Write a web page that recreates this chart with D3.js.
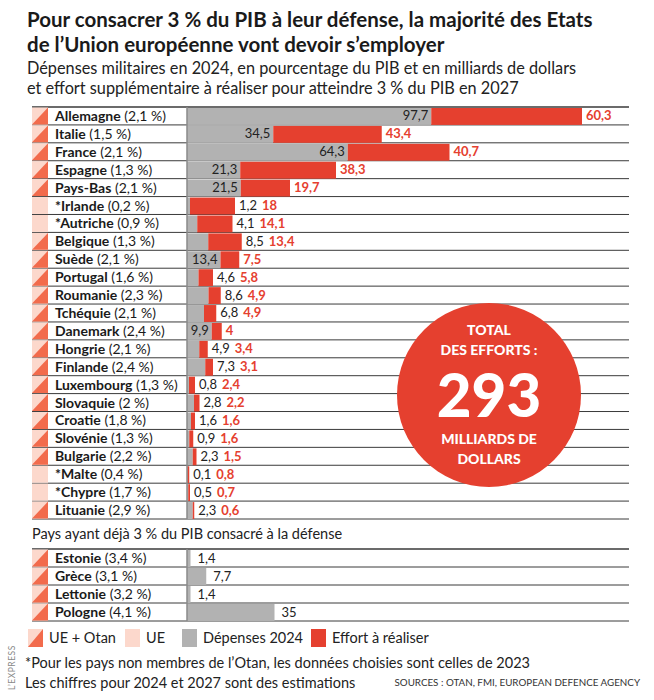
<!doctype html>
<meta charset=utf8>
<title>Effort de défense UE</title>
<style>
  body { margin: 0; background: white; }
  svg { display: block; font-family: Lato, 'Open Sans', sans-serif; }
  .title { font-size: 20.5px; font-weight: 700; fill: #1a1a1a; }
  .subtitle { font-size: 16.3px; fill: #222; }
  .country { font-size: 14px; fill: #1a1a1a; }
  .country tspan.name { font-weight: 700; }
  .val { font-size: 13px; fill: #222; }
  .eff { font-size: 13px; font-weight: 700; fill: #e5402f; }
  .legend { font-size: 14.5px; fill: #222; }
  .note { font-size: 14.5px; fill: #222; }
  .badge { fill: white; font-weight: 900; }
</style>
<svg width=654 height=700></svg>
<script src=https://cdn.jsdelivr.net/npm/d3@7></script>
<script>
  // pays devant encore faire un effort
  var countries = ['Allemagne', 'Italie', 'France', 'Espagne', 'Pays-Bas', '*Irlande', '*Autriche',
    'Belgique', 'Suède', 'Portugal', 'Roumanie', 'Tchéquie', 'Danemark', 'Hongrie', 'Finlande',
    'Luxembourg', 'Slovaquie', 'Croatie', 'Slovénie', 'Bulgarie', '*Malte', '*Chypre', 'Lituanie'];
  var pibShare = ['2,1', '1,5', '2,1', '1,3', '2,1', '0,2', '0,9', '1,3', '2,1', '1,6', '2,3', '2,1',
    '2,4', '2,1', '2,4', '1,3', '2', '1,8', '1,3', '2,2', '0,4', '1,7', '2,9'];
  var spend2024 = [97.7, 34.5, 64.3, 21.3, 21.5, 1.2, 4.1, 8.5, 13.4, 4.6, 8.6, 6.8, 9.9, 4.9, 7.3,
    0.8, 2.8, 1.6, 0.9, 2.3, 0.1, 0.5, 2.3];
  var effort = [60.3, 43.4, 40.7, 38.3, 19.7, 18, 14.1, 13.4, 7.5, 5.8, 4.9, 4.9, 4, 3.4, 3.1,
    2.4, 2.2, 1.6, 1.6, 1.5, 0.8, 0.7, 0.6];
  var nato = [1, 1, 1, 1, 1, 0, 0, 1, 1, 1, 1, 1, 1, 1, 1, 1, 1, 1, 1, 1, 0, 0, 1];

  // pays déjà à 3 %
  var countries3 = ['Estonie', 'Grèce', 'Lettonie', 'Pologne'];
  var pibShare3 = ['3,4', '3,1', '3,2', '4,1'];
  var spend3 = [1.4, 7.7, 1.4, 35];

  var total = '293';

  var red = '#e5402f';
  var grey = '#b2b2b2';
  var pink = '#fcd8cc';
  var orange = '#f26b4c';

  var svg = d3.select('svg');
  var fmt = function(v) { return String(v).replace('.', ','); };

  var x = d3.scaleLinear().domain([0, 160]).range([187, 587]);
  var y = d3.scaleBand().domain(countries).range([107, 519]);
  var y3 = d3.scaleBand().domain(countries3).range([549, 621]);

  var rows = countries.map(function(c, i) {
    return { name: c, pct: pibShare[i], spend: spend2024[i], effort: effort[i], nato: nato[i] };
  });
  var rows3 = countries3.map(function(c, i) {
    return { name: c, pct: pibShare3[i], spend: spend3[i], effort: 0, nato: 1 };
  });

  // titre
  svg.append('text').attr('class', 'title').attr('x', 27).attr('y', 27)
    .text('Pour consacrer 3 % du PIB à leur défense, la majorité des Etats');
  svg.append('text').attr('class', 'title').attr('x', 27).attr('y', 52)
    .text('de l’Union européenne vont devoir s’employer');
  svg.append('text').attr('class', 'subtitle').attr('x', 27).attr('y', 74)
    .text('Dépenses militaires en 2024, en pourcentage du PIB et en milliards de dollars');
  svg.append('text').attr('class', 'subtitle').attr('x', 27).attr('y', 94)
    .text('et effort supplémentaire à réaliser pour atteindre 3 % du PIB en 2027');

  function drawRows(data, band, withEffort) {
    var g = svg.append('g');
    var bw = band.bandwidth();

    // lignes de séparation
    var edges = data.map(function(d) { return band(d.name); });
    edges.push(band.range()[1]);
    g.selectAll('line.sep').data(edges).enter().append('line')
      .attr('x1', 32).attr('x2', 629)
      .attr('y1', function(d) { return d; }).attr('y2', function(d) { return d; })
      .attr('stroke', '#3a3a3a').attr('stroke-width', function(d, i) { return i === 0 ? 1.5 : 1; });

    var row = g.selectAll('g.row').data(data).enter().append('g')
      .attr('transform', function(d) { return 'translate(0,' + band(d.name) + ')'; });

    // icone UE / Otan
    row.append('rect').attr('x', 32).attr('y', 0.5).attr('width', 16).attr('height', bw - 1)
      .attr('fill', pink);
    row.filter(function(d) { return d.nato; }).append('path')
      .attr('d', 'M32,' + (bw - 0.5) + 'L48,' + (bw - 0.5) + 'L48,0.5Z')
      .attr('fill', orange);

    var label = row.append('text').attr('class', 'country').attr('x', 55).attr('y', bw / 2 + 5);
    label.append('tspan').attr('class', 'name').text(function(d) { return d.name; });
    label.append('tspan').text(function(d) { return ' (' + d.pct + ' %)'; });

    row.append('rect').attr('x', x(0)).attr('y', 1).attr('height', bw - 1)
      .attr('width', function(d) { return x(d.spend) - x(0); }).attr('fill', grey);

    if (withEffort) {
      row.append('rect').attr('x', function(d) { return x(d.spend); }).attr('y', 1).attr('height', bw - 1)
        .attr('width', function(d) { return x(d.spend + d.effort) - x(d.spend); }).attr('fill', red);
    }

    row.each(function(d) {
      var r = d3.select(this);
      var end = x(d.spend + d.effort);
      var inside = withEffort && d.spend >= 9.5;
      var next = end + 4;
      if (inside) {
        r.append('text').attr('class', 'val').attr('x', x(d.spend) - 3).attr('y', bw / 2 + 4.5)
          .attr('text-anchor', 'end').text(fmt(d.spend));
      } else {
        var t = r.append('text').attr('class', 'val').attr('x', next + (withEffort ? 0 : 3)).attr('y', bw / 2 + 4.5)
          .text(fmt(d.spend));
        next += t.node().getComputedTextLength() + 5;
      }
      if (withEffort) {
        r.append('text').attr('class', 'eff').attr('x', next).attr('y', bw / 2 + 4.5).text(fmt(d.effort));
      }
    });

    // axe vertical
    g.append('line').attr('x1', x(0)).attr('x2', x(0))
      .attr('y1', band.range()[0]).attr('y2', band.range()[1])
      .attr('stroke', '#8a8a8a').attr('stroke-width', 1.5);
  }

  drawRows(rows, y, true);

  svg.append('text').attr('class', 'note').attr('x', 32).attr('y', 539)
    .text('Pays ayant déjà 3 % du PIB consacré à la défense');

  drawRows(rows3, y3, false);

  // pastille total
  var circle = svg.append('g').attr('transform', 'translate(489,395)');
  circle.append('circle').attr('r', 92).attr('fill', red);
  circle.selectAll('text.top').data(['TOTAL', 'DES EFFORTS :']).enter().append('text')
    .attr('class', 'badge').attr('text-anchor', 'middle').attr('y', function(d, i) { return -60 + i * 20; })
    .style('font-size', '14px')
    .text(function(d) { return d; });
  circle.append('text').attr('class', 'badge').attr('text-anchor', 'middle').attr('y', 22)
    .style('font-size', '60px').text(total);
  circle.selectAll('text.bottom').data(['MILLIARDS DE', 'DOLLARS']).enter().append('text')
    .attr('class', 'badge').attr('text-anchor', 'middle').attr('y', function(d, i) { return 49 + i * 20; })
    .style('font-size', '14px')
    .text(function(d) { return d; });

  // légende
  var legend = [
    { label: 'UE + Otan', x: 28, type: 'nato' },
    { label: 'UE', x: 125, type: 'ue' },
    { label: 'Dépenses 2024', x: 182, type: 'grey' },
    { label: 'Effort à réaliser', x: 311, type: 'red' }
  ];
  var lg = svg.selectAll('g.legend').data(legend).enter().append('g')
    .attr('transform', function(d) { return 'translate(' + d.x + ',629)'; });
  lg.append('rect').attr('width', 15).attr('height', 18)
    .attr('fill', function(d) { return d.type === 'grey' ? grey : d.type === 'red' ? red : pink; });
  lg.filter(function(d) { return d.type === 'nato'; }).append('path')
    .attr('d', 'M0,18L15,18L15,0Z').attr('fill', orange);
  lg.append('text').attr('class', 'legend').attr('x', 21).attr('y', 14).text(function(d) { return d.label; });

  svg.append('text').attr('class', 'note').attr('x', 25).attr('y', 668)
    .text('*Pour les pays non membres de l’Otan, les données choisies sont celles de 2023');
  svg.append('text').attr('class', 'note').attr('x', 25).attr('y', 688)
    .text('Les chiffres pour 2024 et 2027 sont des estimations');
  svg.append('text').attr('x', 640).attr('y', 686).attr('text-anchor', 'end')
    .attr('fill', '#333').style('font-size', '9.8px')
    .text('SOURCES : OTAN, FMI, EUROPEAN DEFENCE AGENCY');
  svg.append('text').attr('transform', 'translate(15,690) rotate(-90)')
    .attr('fill', '#888').style('font-size', '8.5px').style('letter-spacing', '0.5px')
    .text('L’EXPRESS');
</script>
